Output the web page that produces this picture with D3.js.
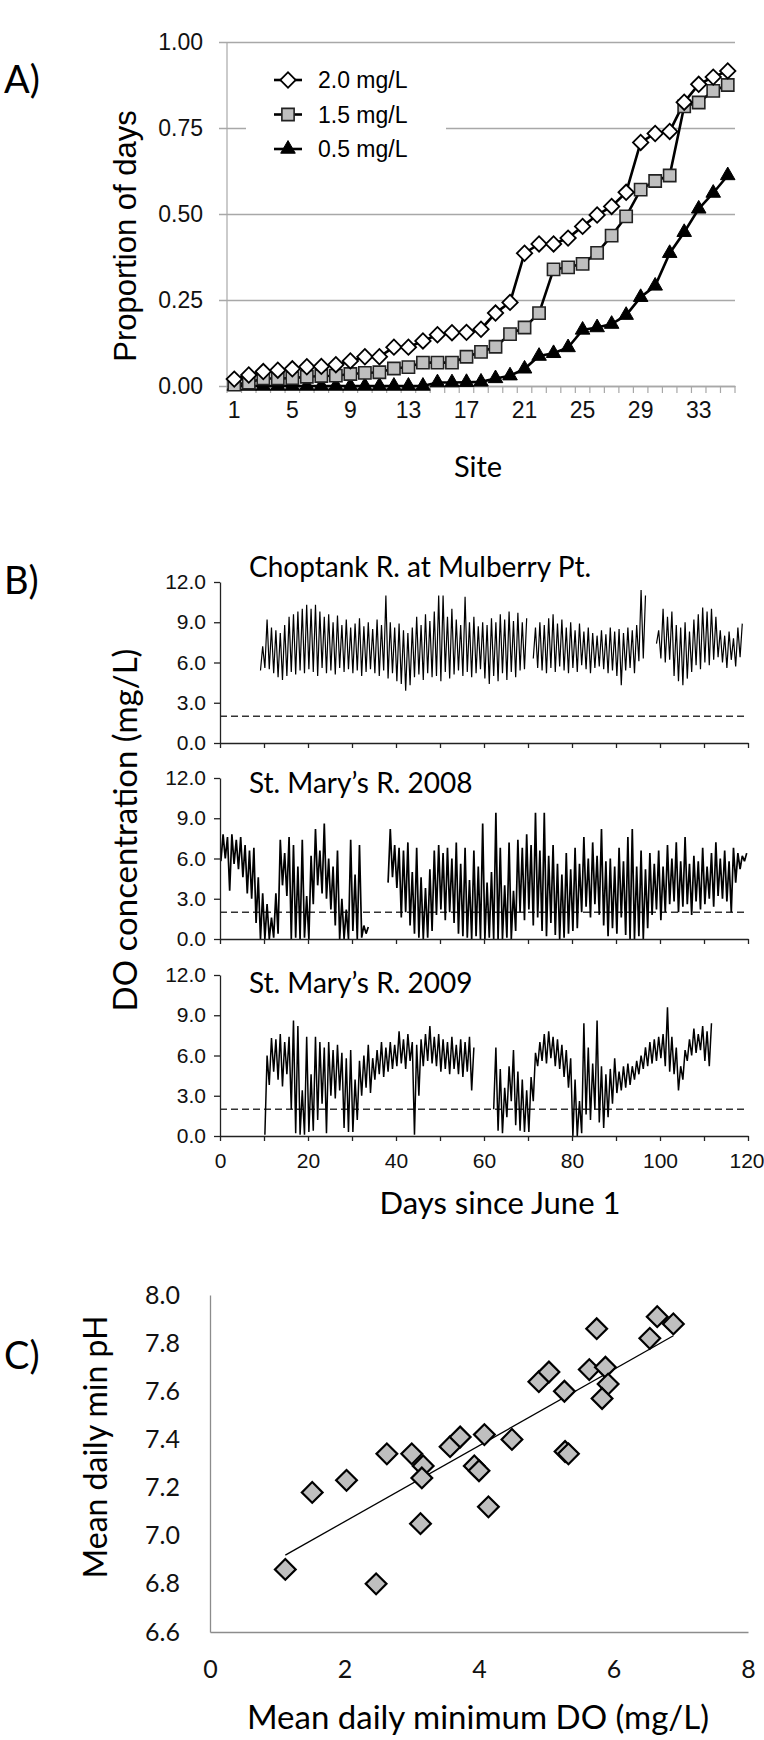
<!DOCTYPE html>
<html>
<head>
<meta charset="utf-8">
<script src="https://cdn.jsdelivr.net/npm/d3@7"></script>
<style>
  body { margin: 0; background: #fff; }
</style>
</head>
<body>
<div class="canva"></div>
<script>
// ---------- panel A: proportion of days below threshold, by site
const sites = d3.range(1, 36);
const siteLabels = [1, 5, 9, 13, 17, 21, 25, 29, 33];
const propTicks = [0, 0.25, 0.5, 0.75, 1];
const prop20 = [0.02, 0.032, 0.042, 0.046, 0.05, 0.056, 0.057, 0.062, 0.073, 0.085,
                0.085, 0.113, 0.113, 0.131, 0.149, 0.155, 0.156, 0.165, 0.212, 0.243,
                0.386, 0.413, 0.413, 0.43, 0.464, 0.497, 0.522, 0.563, 0.708, 0.734,
                0.74, 0.825, 0.877, 0.898, 0.916];
const prop15 = [0.004, 0.01, 0.022, 0.022, 0.023, 0.027, 0.029, 0.03, 0.035, 0.038,
                0.04, 0.051, 0.055, 0.068, 0.068, 0.068, 0.085, 0.099, 0.114, 0.151,
                0.17, 0.212, 0.339, 0.345, 0.355, 0.387, 0.437, 0.493, 0.571, 0.596,
                0.612, 0.813, 0.824, 0.858, 0.875];
const prop05 = [0, 0, 0, 0, 0, 0, 0, 0, 0, 0,
                0, 0, 0, 0, 0.01, 0.01, 0.011, 0.012, 0.022, 0.03,
                0.05, 0.087, 0.095, 0.112, 0.163, 0.17, 0.18, 0.206, 0.258, 0.291,
                0.386, 0.447, 0.515, 0.561, 0.612];
const legendNames = ["2.0 mg/L", "1.5 mg/L", "0.5 mg/L"];

// ---------- panel B: DO time series (daily low / high, mg/L)
const doTicks = [0, 3, 6, 9, 12];
const dayTicks = d3.range(0, 121, 10);
const subTitles = ["Choptank R. at Mulberry Pt.", "St. Mary\u2019s R. 2008", "St. Mary\u2019s R. 2009"];
const doThreshold = 2;

const chopStart = 9;
const chopLow = [5.4,5.6,5.5,5.2,4.9,4.7,5.0,5.3,5.1,5.4,
                 5.2,5.5,5.3,5.0,5.6,5.2,5.4,5.1,5.6,5.3,
                 5.5,5.2,5.4,5.0,5.3,5.5,5.2,5.0,5.4,4.8,
                 5.2,4.6,4.4,3.9,4.3,4.9,5.1,4.7,5.2,4.9,
                 5.0,4.6,5.3,4.8,5.1,5.4,5.0,5.3,4.9,5.2,
                 5.5,4.8,4.4,5.0,4.6,5.2,4.7,5.3,4.9,5.4,
                 5.5,null,6.3,5.6,5.4,5.2,5.6,5.3,5.7,5.4,
                 5.2,5.6,5.3,5.8,5.5,5.2,5.6,5.7,5.5,5.2,
                 5.4,5.0,4.3,5.4,5.6,5.2,6.1,6.3,null,null,
                 7.4,6.3,6.0,6.2,5.0,4.6,4.3,4.8,5.3,5.8,
                 5.5,6.0,5.8,6.2,6.4,6.0,5.6,6.2,5.7,6.4];
const chopHigh = [7.2,9.2,8.6,8.4,8.2,8.8,9.4,9.6,9.8,10.0,
                  10.3,10.0,10.3,9.8,9.4,9.6,9.0,9.5,8.8,9.2,
                  8.6,8.9,9.3,8.7,9.0,8.5,9.2,8.8,11.0,9.0,
                  8.6,8.9,8.4,8.2,8.6,9.4,8.8,9.6,9.1,9.8,
                  11.0,11.0,9.4,10.0,9.2,8.8,10.9,9.0,9.4,8.7,
                  9.0,8.8,9.3,9.0,9.6,9.2,9.8,9.1,9.7,9.0,
                  9.3,null,8.6,9.0,8.8,9.3,9.6,8.9,9.2,8.6,
                  9.0,8.4,8.9,8.3,8.6,8.2,8.0,8.4,8.1,8.6,
                  8.3,8.5,8.2,8.6,8.4,8.8,11.4,11.0,null,null,
                  8.4,10.0,9.4,9.8,8.8,8.6,9.0,8.3,9.2,9.6,
                  10.1,9.8,10.0,9.4,8.4,8.0,8.3,7.8,8.6,8.9];

const smr08Start = 0;
const smr08Low = [5.8,6.0,3.6,5.6,5.2,4.6,3.4,3.0,1.2,0.0,
                  0.0,0.0,0.1,0.4,4.0,3.2,0.0,0.1,0.0,0.1,
                  0.0,2.6,4.0,3.4,3.0,2.2,1.0,0.0,0.0,0.0,
                  0.6,0.0,0.1,0.4,null,null,null,null,4.2,4.6,
                  3.8,1.6,2.0,1.0,0.4,0.1,0.0,0.1,0.6,1.8,
                  2.2,1.4,2.0,1.2,0.4,0.2,0.1,0.0,0.2,0.0,
                  0.0,0.1,0.0,0.0,0.0,0.1,0.0,0.6,2.0,1.4,
                  2.2,1.0,1.6,0.6,0.2,1.2,0.3,0.0,0.1,0.4,
                  0.6,0.8,2.0,2.4,1.6,2.6,1.8,1.0,0.2,0.8,
                  0.4,1.6,0.3,0.0,0.0,0.2,0.0,0.8,1.8,2.2,
                  1.4,2.0,2.6,2.8,2.0,2.4,2.6,1.8,2.8,2.2,
                  2.6,3.0,2.4,3.2,3.0,2.8,2.0,4.2,5.2,5.8];
const smr08High = [7.8,7.6,7.8,7.4,7.6,7.0,6.6,6.8,4.6,3.4,
                   2.6,1.6,3.4,7.4,6.4,7.6,7.0,5.4,7.4,3.2,
                   6.2,8.2,6.6,8.6,6.0,5.4,6.6,3.0,2.2,7.4,
                   4.8,7.0,1.0,0.9,null,null,null,null,8.2,7.0,
                   6.8,6.6,7.2,5.0,6.8,4.6,3.8,5.2,6.6,7.0,
                   6.4,6.8,6.0,7.2,5.6,6.8,4.4,6.6,5.4,8.6,
                   4.2,5.0,9.4,6.8,4.0,7.2,3.6,7.4,6.8,7.8,
                   7.0,9.4,6.6,9.4,6.2,7.0,5.6,4.8,6.4,5.2,
                   6.8,5.6,7.6,6.0,7.2,6.2,8.2,5.8,6.0,5.4,
                   6.8,5.8,7.6,8.2,5.4,6.6,5.2,6.4,5.6,6.6,
                   5.4,7.0,6.0,7.2,5.8,7.6,5.6,6.2,5.8,6.8,
                   5.4,6.4,7.2,6.0,6.6,5.8,6.8,6.4,6.2,6.4];

const smr09Start = 10;
const smr09Low = [0.1,3.8,4.8,4.2,3.7,4.6,2.0,0.2,0.1,0.1,
                  0.3,0.4,1.2,2.4,0.2,3.0,2.8,3.4,0.6,0.3,
                  0.3,1.2,3.0,3.6,3.2,4.2,4.6,4.4,4.8,5.0,
                  5.2,5.4,5.0,5.6,0.1,3.0,5.2,5.6,5.4,5.2,
                  4.8,5.0,4.6,5.0,4.6,4.4,4.8,3.4,null,null,
                  null,null,2.0,0.4,0.2,1.4,2.6,0.8,0.4,0.3,
                  0.3,2.6,5.2,5.6,5.4,5.8,5.2,5.0,4.4,3.6,
                  0.0,0.0,0.2,1.6,1.2,2.0,1.0,0.6,1.4,2.4,
                  3.2,3.4,3.6,3.8,4.2,4.6,5.0,5.2,5.4,5.6,
                  5.8,5.2,4.8,4.6,3.4,4.2,5.6,6.0,6.2,6.4,
                  5.6,5.2];
const smr09High = [6.0,7.3,7.2,7.6,7.0,7.4,8.6,8.2,3.4,7.4,
                   4.6,7.4,7.0,6.6,7.0,6.4,6.8,6.2,5.8,6.4,
                   4.2,5.6,6.0,6.8,5.8,6.4,7.0,6.6,7.0,6.8,
                   7.8,7.2,7.6,7.0,6.8,7.2,7.6,8.2,7.4,7.6,
                   7.2,7.0,7.4,6.8,7.2,7.0,7.4,6.6,null,null,
                   null,null,6.6,5.0,3.6,5.2,6.4,4.8,4.2,3.4,
                   4.4,6.2,7.0,7.6,7.8,7.4,7.2,6.8,6.4,5.8,
                   4.2,2.6,8.4,6.6,5.4,8.6,5.2,4.6,5.0,5.8,
                   4.8,5.2,5.4,5.2,5.6,6.0,6.6,7.0,7.2,7.4,
                   7.6,9.6,7.4,6.6,5.2,6.4,7.2,8.0,7.6,8.2,
                   7.8,8.4];

// ---------- panel C: mean daily min DO vs mean daily min pH
const doMin = [1.12, 2.47, 1.52, 2.03, 2.63, 3.00, 3.17, 3.15, 3.13, 3.57,
               3.72, 4.08, 3.93, 4.00, 4.14, 4.49, 5.28, 5.33, 4.89, 5.04,
               5.27, 5.64, 5.88, 5.92, 5.83, 5.75, 6.54, 6.65, 6.89];
const phMin = [6.86, 6.80, 7.18, 7.23, 7.34, 7.34, 7.29, 7.24, 7.05, 7.37,
               7.41, 7.42, 7.29, 7.27, 7.12, 7.40, 7.35, 7.34, 7.64, 7.68,
               7.60, 7.69, 7.70, 7.63, 7.57, 7.86, 7.82, 7.91, 7.88];
const phTicks = d3.range(6.6, 8.01, 0.2);
const doMinTicks = [0, 2, 4, 6, 8];

// ---------------------------------------------------------------
const calibri = "Lato, 'Open Sans', sans-serif";
const arial = "'Liberation Sans', Arial, sans-serif";

const svg = d3.select(".canva").append("svg")
    .attr("width", 764)
    .attr("height", 1740);

function panelLetter(txt, x, y) {
    svg.append("text")
        .attr("x", x).attr("y", y)
        .attr("font-family", calibri)
        .attr("font-size", 38)
        .text(txt);
}

// ===================== A =====================
const A = {left: 227, right: 735, top: 42, bottom: 386};
const xA = d3.scaleBand().domain(sites).range([A.left, A.right]);
const yA = d3.scaleLinear().domain([0, 1]).range([A.bottom, A.top]);
const bw = xA.bandwidth();
const gA = svg.append("g");

// gridlines
gA.append("g")
    .attr("transform", `translate(${A.left},0)`)
    .call(d3.axisLeft(yA).tickValues(propTicks).tickSize(-(A.right - A.left)).tickFormat(""))
    .call(g => g.select(".domain").remove())
    .call(g => g.selectAll(".tick line").attr("stroke", "#a8a8a8").attr("stroke-width", 1.4)
        .attr("x1", -8));

// tick labels
gA.append("g")
    .attr("transform", `translate(${A.left},0)`)
    .call(d3.axisLeft(yA).tickValues(propTicks).tickSize(0).tickPadding(24).tickFormat(d3.format(".2f")))
    .call(g => g.select(".domain").remove())
    .call(g => g.selectAll("text").attr("font-family", arial).attr("font-size", 23).attr("fill", "#111"));

// left axis line
gA.append("line")
    .attr("x1", A.left).attr("x2", A.left)
    .attr("y1", A.top).attr("y2", A.bottom)
    .attr("stroke", "#a8a8a8").attr("stroke-width", 1.2);

// bottom axis with category ticks
gA.append("g")
    .attr("transform", `translate(0,${A.bottom})`)
    .call(d3.axisBottom(xA).tickValues(siteLabels).tickSize(0).tickPadding(16))
    .call(g => g.select(".domain").attr("stroke", "#a8a8a8").attr("stroke-width", 1.4))
    .call(g => g.selectAll("text").attr("font-family", arial).attr("font-size", 23).attr("fill", "#111"));

gA.selectAll("line.cat")
    .data(sites.concat([36]))
    .join("line")
    .attr("class", "cat")
    .attr("x1", d => d <= 35 ? xA(d) : A.right)
    .attr("x2", d => d <= 35 ? xA(d) : A.right)
    .attr("y1", A.bottom).attr("y2", A.bottom + 7)
    .attr("stroke", "#a8a8a8").attr("stroke-width", 1.2);

// legend box (covers the 0.75 gridline)
gA.append("rect")
    .attr("x", 246).attr("y", 62)
    .attr("width", 200).attr("height", 105)
    .attr("fill", "#fff");

const seriesA = [
    {name: legendNames[0], vals: prop20, shape: d3.symbolSquare, size: 118, rot: 45, fill: "#fff", stroke: "#000", sw: 1.8},
    {name: legendNames[1], vals: prop15, shape: d3.symbolSquare, size: 150, rot: 0, fill: "#bfbfbf", stroke: "#222", sw: 1.6},
    {name: legendNames[2], vals: prop05, shape: d3.symbolTriangle, size: 92, rot: 0, fill: "#000", stroke: "#000", sw: 1}
];

const lineA = d3.line()
    .x(d => xA(d.site) + bw / 2)
    .y(d => yA(d.v));

seriesA.forEach(s => {
    const pts = sites.map((site, i) => ({site: site, v: s.vals[i]}));
    gA.append("path")
        .attr("d", lineA(pts))
        .attr("fill", "none")
        .attr("stroke", "#000")
        .attr("stroke-width", 2.6);
});
// draw markers in reverse so the 2.0 series lies on top
seriesA.slice().reverse().forEach(s => {
    const sym = d3.symbol().type(s.shape).size(s.size);
    gA.append("g").selectAll("path")
        .data(sites.map((site, i) => ({site: site, v: s.vals[i]})))
        .join("path")
        .attr("d", sym)
        .attr("transform", d => `translate(${xA(d.site) + bw / 2},${yA(d.v)}) rotate(${s.rot})`)
        .attr("fill", s.fill)
        .attr("stroke", s.stroke)
        .attr("stroke-width", s.sw);
});

// legend entries
const legY = d3.scalePoint().domain(legendNames).range([80, 149]);
seriesA.forEach(s => {
    const y = legY(s.name);
    gA.append("line")
        .attr("x1", 274).attr("x2", 302)
        .attr("y1", y).attr("y2", y)
        .attr("stroke", "#000").attr("stroke-width", 2.6);
    gA.append("path")
        .attr("d", d3.symbol().type(s.shape).size(s.size)())
        .attr("transform", `translate(288,${y}) rotate(${s.rot})`)
        .attr("fill", s.fill).attr("stroke", s.stroke).attr("stroke-width", s.sw);
    gA.append("text")
        .attr("x", 318).attr("y", y)
        .attr("dy", "0.36em")
        .attr("font-family", arial)
        .attr("font-size", 23)
        .text(s.name);
});

svg.append("text")
    .attr("transform", "translate(136,236) rotate(-90)")
    .attr("text-anchor", "middle")
    .attr("font-family", arial)
    .attr("font-size", 31)
    .text("Proportion of days");

svg.append("text")
    .attr("x", 478).attr("y", 477)
    .attr("text-anchor", "middle")
    .attr("font-family", calibri)
    .attr("font-size", 29)
    .text("Site");

panelLetter("A)", 4, 93);

// ===================== B =====================
const xB = d3.scaleLinear().domain([0, 120]).range([220, 748]);
const subTops = [582, 778, 975];
const subH = 161;
const seriesB = [
    {start: chopStart, low: chopLow, high: chopHigh, sw: 1.2},
    {start: smr08Start, low: smr08Low, high: smr08High, sw: 1.7},
    {start: smr09Start, low: smr09Low, high: smr09High, sw: 1.5}
];

// one low and one high point per day
function dailyPoints(start, lows, highs) {
    const pts = [];
    lows.forEach((lo, i) => {
        const day = start + i;
        if (lo === null) { pts.push({d: day, v: null}); return; }
        pts.push({d: day + 0.2, v: lo}, {d: day + 0.7, v: highs[i]});
    });
    return pts;
}

subTops.forEach((top, k) => {
    const yB = d3.scaleLinear().domain([0, 12]).range([top + subH, top]);
    const g = svg.append("g");

    // dashed hypoxia threshold
    g.append("line")
        .attr("x1", xB(0)).attr("x2", xB(120))
        .attr("y1", yB(doThreshold)).attr("y2", yB(doThreshold))
        .attr("stroke", "#333").attr("stroke-width", 1.5)
        .attr("stroke-dasharray", "7,4");

    const lineB = d3.line()
        .defined(p => p.v !== null)
        .x(p => xB(p.d))
        .y(p => yB(p.v));
    g.append("path")
        .attr("d", lineB(dailyPoints(seriesB[k].start, seriesB[k].low, seriesB[k].high)))
        .attr("fill", "none")
        .attr("stroke", "#000")
        .attr("stroke-linejoin", "bevel")
        .attr("stroke-width", seriesB[k].sw);

    g.append("g")
        .attr("transform", `translate(${xB(0)},0)`)
        .call(d3.axisLeft(yB).tickValues(doTicks).tickSize(6).tickSizeOuter(0).tickPadding(8).tickFormat(d3.format(".1f")))
        .call(a => a.selectAll("text").attr("font-family", arial).attr("font-size", 21).attr("fill", "#111"))
        .call(a => a.selectAll("line, path").attr("stroke", "#222").attr("stroke-width", 1.3));

    g.append("g")
        .attr("transform", `translate(0,${top + subH})`)
        .call(d3.axisBottom(xB).tickValues(dayTicks).tickSize(5).tickSizeOuter(0).tickPadding(12)
            .tickFormat(d => (k === 2 && d % 20 === 0) ? d : ""))
        .call(a => a.selectAll("text").attr("font-family", arial).attr("font-size", 21).attr("fill", "#111"))
        .call(a => a.selectAll(".tick:last-of-type text").attr("text-anchor", "end").attr("dx", 16))
        .call(a => a.selectAll("line, path").attr("stroke", "#222").attr("stroke-width", 1.3));

    g.append("text")
        .attr("x", 249)
        .attr("y", [577, 793, 993][k])
        .attr("font-family", calibri)
        .attr("font-size", 28)
        .text(subTitles[k]);
});

svg.append("text")
    .attr("transform", "translate(137,830) rotate(-90)")
    .attr("text-anchor", "middle")
    .attr("font-family", calibri)
    .attr("font-size", 33)
    .text("DO concentration (mg/L)");

svg.append("text")
    .attr("x", 500).attr("y", 1214)
    .attr("text-anchor", "middle")
    .attr("font-family", calibri)
    .attr("font-size", 31)
    .text("Days since June 1");

panelLetter("B)", 4, 594);

// ===================== C =====================
const C = {left: 210, right: 748, top: 1295, bottom: 1632};
const xC = d3.scaleLinear().domain([0, 8]).range([C.left, C.right]);
const yC = d3.scaleLinear().domain([6.6, 8.0]).range([C.bottom, C.top]);
const gC = svg.append("g");

gC.append("g")
    .attr("transform", `translate(${C.left},0)`)
    .call(d3.axisLeft(yC).tickValues(phTicks).tickSize(0).tickSizeOuter(0).tickPadding(30).tickFormat(d3.format(".1f")))
    .call(a => a.select(".domain").attr("stroke", "#8c8c8c").attr("stroke-width", 1.3))
    .call(a => a.selectAll("text").attr("font-family", calibri).attr("font-size", 25).attr("fill", "#111"));

gC.append("g")
    .attr("transform", `translate(0,${C.bottom})`)
    .call(d3.axisBottom(xC).tickValues(doMinTicks).tickSize(0).tickSizeOuter(0).tickPadding(28).tickFormat(d3.format("d")))
    .call(a => a.select(".domain").attr("stroke", "#8c8c8c").attr("stroke-width", 1.3))
    .call(a => a.selectAll("text").attr("font-family", calibri).attr("font-size", 25).attr("fill", "#111"));

// least-squares trend line
const pairs = doMin.map((d, i) => [d, phMin[i]]);
const mx = d3.mean(doMin), my = d3.mean(phMin);
const slope = d3.sum(pairs, p => (p[0] - mx) * (p[1] - my)) / d3.sum(pairs, p => (p[0] - mx) ** 2);
const icpt = my - slope * mx;
const xr = d3.extent(doMin);
gC.append("line")
    .attr("x1", xC(xr[0])).attr("y1", yC(icpt + slope * xr[0]))
    .attr("x2", xC(xr[1])).attr("y2", yC(icpt + slope * xr[1]))
    .attr("stroke", "#000").attr("stroke-width", 1.3);

gC.selectAll("path.pt")
    .data(pairs)
    .join("path")
    .attr("class", "pt")
    .attr("d", d3.symbol().type(d3.symbolSquare).size(215))
    .attr("transform", p => `translate(${xC(p[0])},${yC(p[1])}) rotate(45)`)
    .attr("fill", "#bfbfbf")
    .attr("stroke", "#000")
    .attr("stroke-width", 2.2);

svg.append("text")
    .attr("transform", "translate(107,1447) rotate(-90)")
    .attr("text-anchor", "middle")
    .attr("font-family", calibri)
    .attr("font-size", 32)
    .text("Mean daily min pH");

svg.append("text")
    .attr("x", 478).attr("y", 1729)
    .attr("text-anchor", "middle")
    .attr("font-family", calibri)
    .attr("font-size", 33)
    .text("Mean daily minimum DO (mg/L)");

panelLetter("C)", 4, 1369);
</script>
</body>
</html>
